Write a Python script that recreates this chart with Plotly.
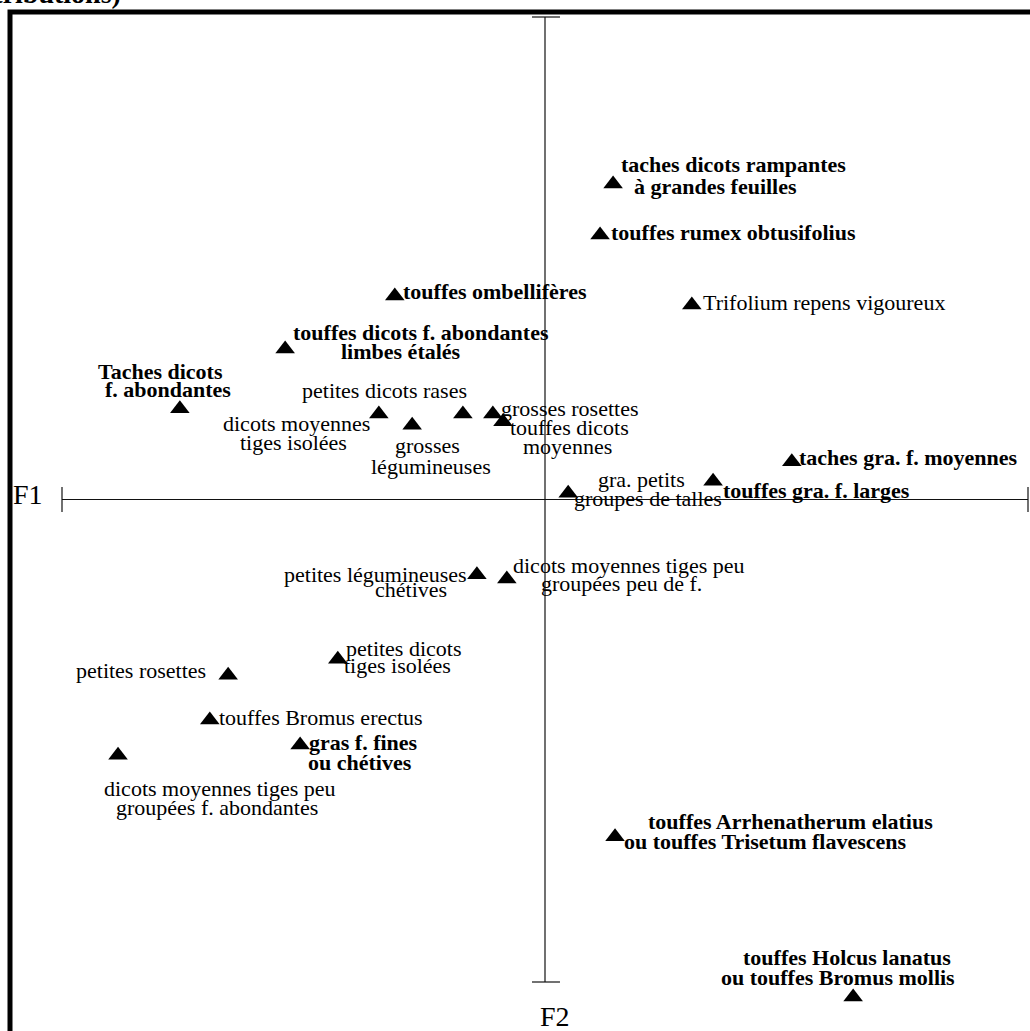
import plotly.graph_objects as go

# ---------------- data ----------------
labels = [
    ["taches dicots rampantes", "à grandes feuilles"],
    ["touffes rumex obtusifolius"],
    ["touffes ombellifères"],
    ["Trifolium repens vigoureux"],
    ["touffes dicots f. abondantes", "limbes étalés"],
    ["Taches dicots", "f. abondantes"],
    ["dicots moyennes", "tiges isolées"],
    ["grosses", "légumineuses"],
    ["petites dicots rases"],
    ["grosses rosettes"],
    ["touffes dicots", "moyennes"],
    ["taches gra. f. moyennes"],
    ["gra. petits", "groupes de talles"],
    ["touffes gra. f. larges"],
    ["petites légumineuses", "chétives"],
    ["dicots moyennes tiges peu", "groupées peu de f."],
    ["petites dicots", "tiges isolées"],
    ["petites rosettes"],
    ["touffes Bromus erectus"],
    ["gras f. fines", "ou chétives"],
    ["dicots moyennes tiges peu", "groupées f. abondantes"],
    ["touffes Arrhenatherum elatius", "ou touffes Trisetum flavescens"],
    ["touffes Holcus lanatus", "ou touffes Bromus mollis"],
]
f1 = [0.141, 0.114, -0.311, 0.304, -0.538, -0.756, -0.344, -0.275, -0.170,
      -0.108, -0.087, 0.511, 0.048, 0.348, -0.141, -0.079, -0.429, -0.656,
      -0.694, -0.507, -0.884, 0.145, 0.638]
f2 = [0.654, 0.548, 0.422, 0.403, 0.312, 0.188, 0.177, 0.154, 0.177,
      0.177, 0.161, 0.078, 0.013, 0.038, -0.156, -0.165, -0.331, -0.364,
      -0.457, -0.509, -0.530, -0.699, -1.031]
axis_names = ["F1", "F2"]
top_text = "(contributions)"

# ---------------- label styling / placement (pixels) ----------------
bold = [True, True, True, False, True, True, False, False, False, False, False,
        True, False, True, False, False, False, False, False, True, False, True, True]
# per line: (dx, dy_down, xanchor)
label_pos = [
    [(7, -19, "left"), (20, 3, "left")],
    [(10, -3, "left")],
    [(7, -4, "left")],
    [(10, -3, "left")],
    [(7, -16, "left"), (55, 3, "left")],
    [(-19, -37, "center"), (-12, -19, "center")],
    [(-82, 9, "center"), (-85, 28, "center")],
    [(15, 20, "center"), (19, 41, "center")],
    [(-78, -24, "center")],
    [(7, -6, "left")],
    [(67, 6, "center"), (65, 25, "center")],
    [(6, -4, "left")],
    [(29, -14, "left"), (5, 5, "left")],
    [(9, 9, "left")],
    [(-101, 0, "center"), (-66, 15, "center")],
    [(5, -14, "left"), (33, 4, "left")],
    [(7, -11, "left"), (5, 6, "left")],
    [(-21, -5, "right")],
    [(8, -3, "left")],
    [(63, -3, "center"), (60, 17, "center")],
    [(102, 33, "center"), (99, 52, "center")],
    [(32, -15, "left"), (8, 5, "left")],
    [(-6, -39, "center"), (-15, -19, "center")],
]

W, H = 1030, 1031
FONT = "Liberation Serif, Times New Roman, serif"
FS = 22

fig = go.Figure()
fig.add_trace(go.Scatter(
    x=f1, y=f2, mode="markers",
    marker=dict(symbol="triangle-up", size=17, color="black", line=dict(width=0)),
    hoverinfo="skip", showlegend=False))

ann = []
for i, lines in enumerate(labels):
    for j, txt in enumerate(lines):
        dx, dy, xa = label_pos[i][j]
        t = "<b>%s</b>" % txt if bold[i] else txt
        ann.append(dict(x=f1[i], y=f2[i], xref="x", yref="y", text=t,
                        showarrow=False, xanchor=xa, yanchor="middle",
                        xshift=dx, yshift=-dy, borderpad=0,
                        font=dict(family=FONT, size=FS, color="black")))

# axis names and truncated caption
ann.append(dict(x=28 / W, y=1 - 494 / H, xref="paper", yref="paper", text=axis_names[0],
                showarrow=False, xanchor="center", yanchor="middle",
                font=dict(family=FONT, size=28, color="black")))
ann.append(dict(x=555 / W, y=1 - 1016 / H, xref="paper", yref="paper", text=axis_names[1],
                showarrow=False, xanchor="center", yanchor="middle",
                font=dict(family=FONT, size=28, color="black")))
ann.append(dict(x=122 / W, y=1 - 10 / H, xref="paper", yref="paper",
                text="<b>%s</b>" % top_text, showarrow=False, xanchor="right",
                yanchor="bottom", borderpad=0,
                font=dict(family=FONT, size=28, color="black")))

ln = dict(color="#111", width=1.2)
shapes = [
    # frame
    dict(type="rect", xref="paper", yref="paper", x0=10 / W, x1=1.1, y0=-0.1, y1=1 - 12 / H,
         line=dict(color="black", width=5), fillcolor="rgba(0,0,0,0)", layer="below"),
    # F1 axis
    dict(type="line", xref="x", yref="y", x0=-1, x1=1, y0=0, y1=0, line=ln),
    dict(type="line", xref="x", yref="y", x0=-1, x1=-1, y0=-0.026, y1=0.026, line=ln),
    dict(type="line", xref="x", yref="y", x0=1, x1=1, y0=-0.026, y1=0.026, line=ln),
    # F2 axis
    dict(type="line", xref="x", yref="y", x0=0, x1=0, y0=-1, y1=1, line=ln),
    dict(type="line", xref="x", yref="y", x0=-0.027, x1=0.031, y0=1, y1=1, line=ln),
    dict(type="line", xref="x", yref="y", x0=-0.027, x1=0.031, y0=-1, y1=-1, line=ln),
]

fig.update_layout(
    width=W, height=H, margin=dict(l=0, r=0, t=0, b=0),
    paper_bgcolor="white", plot_bgcolor="white",
    xaxis=dict(range=[-545 / 483, (W - 545) / 483], visible=False, fixedrange=True),
    yaxis=dict(range=[(499.5 - H) / 482.5, 499.5 / 482.5], visible=False, fixedrange=True),
    annotations=ann, shapes=shapes, showlegend=False,
)

fig.write_html("out.html", config={"displayModeBar": False},
               post_script="document.body.style.margin='0';document.body.style.overflow='hidden';")
